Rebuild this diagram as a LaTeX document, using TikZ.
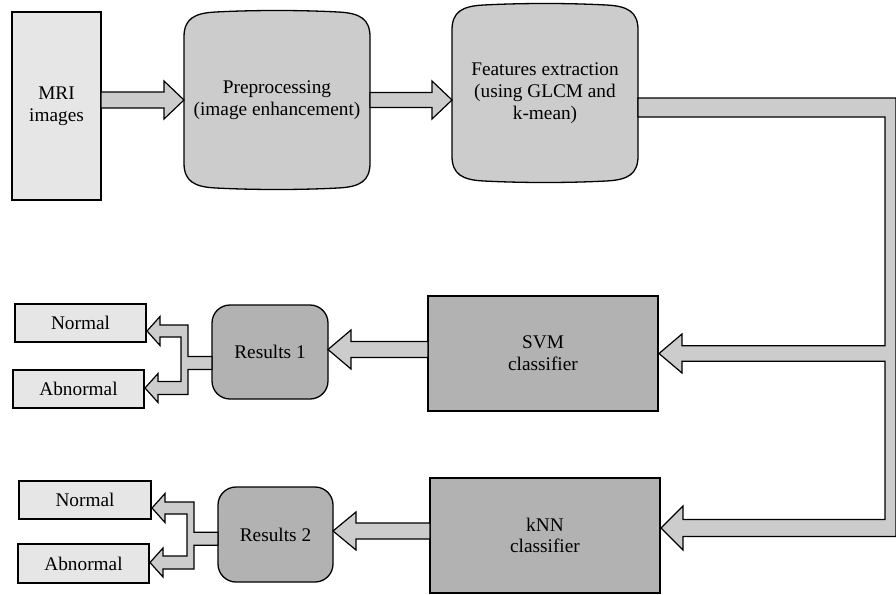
\documentclass[tikz,border=0pt]{standalone}
\usepackage{fontspec}
\setmainfont{Liberation Serif}
\usetikzlibrary{calc}
\pgfdeclarelayer{bg}
\pgfsetlayers{bg,main}
\definecolor{lightg}{HTML}{E6E6E6}
\definecolor{midg}{HTML}{CCCCCC}
\definecolor{darkg}{HTML}{B2B2B2}
\tikzset{
  base/.style={inner sep=0pt, outer sep=0pt, align=center, line width=1.3pt},
  lbox/.style={base, draw, fill=lightg},
  dbox/.style={base, draw, fill=darkg},
  rbox/.style={base, draw, fill=darkg, rounded corners=18pt},
  tube/.style={base},
  tubefill/.style={draw, fill=midg, line width=1.3pt},
  arr/.style={draw, fill=midg, line width=1.2pt, line join=miter},
}
% horizontal block arrow: from #1 to tip #2 (axis = y of #2)
\newcommand\harrow[5]{%
  \draw[arr] let \p1=(#1), \p2=(#2), \n1={\x2-#5pt} in
    (\x1,\y2+#3pt) -- (\n1,\y2+#3pt) -- (\n1,\y2+#4pt) -- (\x2,\y2)
    -- (\n1,\y2-#4pt) -- (\n1,\y2-#3pt) -- (\x1,\y2-#3pt) -- cycle;}
% tube shaped outline behind a node
\newcommand\tubeshape[1]{%
  \begin{pgfonlayer}{bg}
  \draw[tubefill] let \p1=(#1.north west), \p2=(#1.south east) in
    (\x1,\y1-27pt) .. controls (\x1,\y1-9pt) and (\x1+10pt,\y1-3pt) .. (\x1+32pt,\y1-2pt)
    .. controls (\x1+70pt,\y1) and (\x2-70pt,\y1) .. (\x2-32pt,\y1-2pt)
    .. controls (\x2-10pt,\y1-3pt) and (\x2,\y1-9pt) .. (\x2,\y1-27pt)
    -- (\x2,\y2+27pt)
    .. controls (\x2,\y2+9pt) and (\x2-10pt,\y2+3pt) .. (\x2-32pt,\y2+2pt)
    .. controls (\x2-70pt,\y2) and (\x1+70pt,\y2) .. (\x1+32pt,\y2+2pt)
    .. controls (\x1+10pt,\y2+3pt) and (\x1,\y2+9pt) .. (\x1,\y2+27pt) -- cycle;
  \end{pgfonlayer}}
% forked arrow from result node #1 to boxes #2 (upper) and #3 (lower)
\newcommand\forkarrow[3]{%
  \draw[arr] let \p1=(#1.west), \p2=(#2.east), \p3=(#3.east),
      \n2={\y2-8pt}, \n3={\y3+1pt}, \n1={(\n2+\n3)/2-3.5pt} in
    (\x1,\n1+6.5pt) -- (\x1-24pt,\n1+6.5pt) -- (\x1-24pt,\n2+6pt)
    -- (\x2+14pt,\n2+6pt) -- (\x2+14pt,\n2+14.5pt) -- (\x2+1pt,\n2)
    -- (\x2+14pt,\n2-14.5pt) -- (\x2+14pt,\n2-6pt) -- (\x1-31pt,\n2-6pt)
    -- (\x1-31pt,\n3+6.5pt) -- (\x3+14pt,\n3+6.5pt) -- (\x3+14pt,\n3+14.5pt)
    -- (\x3+1pt,\n3) -- (\x3+14pt,\n3-14.5pt) -- (\x3+14pt,\n3-6.5pt)
    -- (\x1-24pt,\n3-6.5pt) -- (\x1-24pt,\n1-6.5pt) -- (\x1,\n1-6.5pt) -- cycle;}
\begin{document}
\begin{tikzpicture}[x=1pt,y=-1pt,font=\fontsize{19.3}{21.7}\selectfont]
\useasboundingbox (0,0) rectangle (896,594);
\begin{pgfonlayer}{bg}
\fill[white] (0,0) rectangle (896,594);
\end{pgfonlayer}

\node[lbox, minimum width=89pt, minimum height=188pt] (mri) at (56.5,106) {MRI\\images};
\node[tube, minimum width=186pt, minimum height=180pt] (pre) at (277,100) {Preprocessing\\(image enhancement)};
\node[tube, minimum width=186pt, minimum height=180pt] (feat) at (545,93) {Features extraction\\(using GLCM and\\k-mean)};
\tubeshape{pre}
\tubeshape{feat}

\node[dbox, minimum width=230pt, minimum height=115pt] (svm) at (543,353.5) {SVM\\classifier};
\node[dbox, minimum width=230pt, minimum height=115pt] (knn) at (545,535.5) {kNN\\classifier};
\node[rbox, minimum width=116pt, minimum height=94pt] (res1) at (270,352) {Results 1};
\node[rbox, minimum width=115pt, minimum height=95pt] (res2) at (275.5,534.5) {Results 2};
\node[lbox, minimum width=131pt, minimum height=38pt] (n1) at (80.5,323) {Normal};
\node[lbox, minimum width=131pt, minimum height=38pt] (a1) at (78.5,389) {Abnormal};
\node[lbox, minimum width=132pt, minimum height=38pt] (n2) at (85,500) {Normal};
\node[lbox, minimum width=131pt, minimum height=39pt] (a2) at (83.5,563.5) {Abnormal};

\harrow{mri.east}{pre.west}{8}{19}{20}
\harrow{pre.east}{pre.east -| feat.west}{7.5}{19}{20}
\harrow{svm.west}{$(res1.east)+(0,-2.5)$}{8}{19.5}{-23}
\harrow{knn.west}{$(res2.east)+(0,-3.5)$}{8}{19}{-23}

% main connector from features to both classifiers
\draw[arr] let \p1=(feat.east), \p2=(svm.east), \p3=(knn.east),
    \n4={\x1+258pt}, \n5={\x1+247pt}, \n6={\y3+7.5pt} in
  (\x1,\y1-5pt) -- (\n4,\y1-5pt) -- (\n4,\n6-8.5pt)
  -- (\x3+23pt,\n6-8.5pt) -- (\x3+23pt,\n6-22pt) -- (\x3+1pt,\n6)
  -- (\x3+23pt,\n6+22pt) -- (\x3+23pt,\n6+8.5pt) -- (\n5,\n6+8.5pt)
  -- (\n5,\y2-7.7pt) -- (\x2+24pt,\y2-7.7pt) -- (\x2+24pt,\y2-19.5pt) -- (\x2+1pt,\y2)
  -- (\x2+24pt,\y2+19.5pt) -- (\x2+24pt,\y2+7.7pt) -- (\n5,\y2+7.7pt)
  -- (\n5,\y1-24pt) -- (\x1,\y1-24pt) -- cycle;

\forkarrow{res1}{n1}{a1}
\forkarrow{res2}{n2}{a2}
\end{tikzpicture}
\end{document}
